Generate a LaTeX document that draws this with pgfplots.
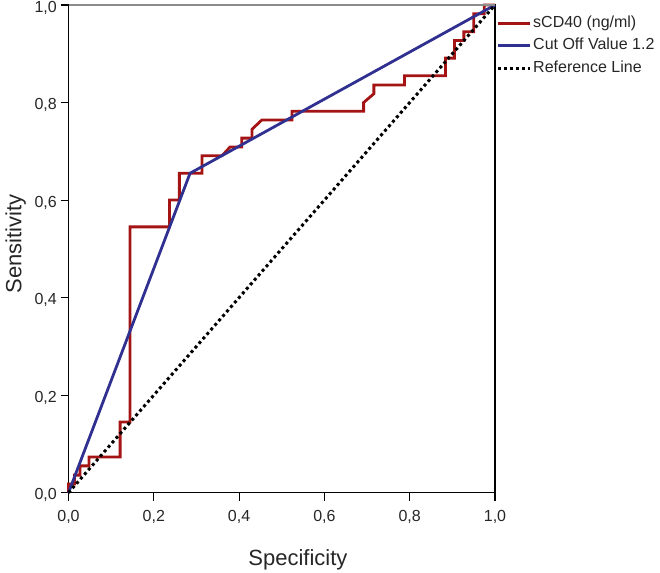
\documentclass[border=0pt]{standalone}
\usepackage{fontspec}
\setmainfont{Liberation Sans}
\usepackage{pgfplots}
\pgfplotsset{compat=1.18}
\definecolor{rocred}{RGB}{165,20,20}
\definecolor{rocblue}{RGB}{48,48,145}
\begin{document}
\begin{tikzpicture}[x=1bp,y=1bp]
\path[use as bounding box] (0,0) rectangle (660,573);
\begin{axis}[
  at={(68.5bp,80.3bp)}, anchor=south west,
  width=426.5bp, height=487.7bp, scale only axis,
  xmin=0, xmax=1, ymin=0, ymax=1,
  clip=false,
  xtick={0,0.2,0.4,0.6,0.8,1}, ytick={0,0.2,0.4,0.6,0.8,1},
  xtick pos=bottom, ytick pos=left,
  tick align=outside, major tick length=8bp,
  tick style={black, line width=1.1bp},
  axis line style={black, line width=1.1bp},
  /pgf/number format/assume math mode=true,
  /pgf/number format/use comma,
  /pgf/number format/fixed,
  /pgf/number format/fixed zerofill,
  /pgf/number format/precision=1,
  tick label style={font=\fontsize{16bp}{19bp}\selectfont, text=black!85},
  xticklabel style={anchor=north, inner sep=0pt, yshift=-9bp},
  yticklabel style={anchor=east, inner sep=0pt, xshift=-3.5bp, yshift=-2.5bp},
  xlabel={Specificity},
  ylabel={Sensitivity},
  label style={font=\fontsize{22bp}{26bp}\selectfont, text=black!85},
  xlabel style={at={([yshift=-73.3bp]axis description cs:0.538,0)}, anchor=base},
  ylabel style={at={([xshift=-47bp]axis description cs:0,0.51)}, anchor=base},
  legend style={at={([xshift=1.5bp,yshift=-9bp]axis description cs:1,1)}, anchor=north west,
    draw=none, fill=none, inner xsep=0pt, inner ysep=0pt,
    font=\fontsize{16bp}{19bp}\selectfont, text=black!85,
    nodes={inner sep=1.5bp, text height=11.5bp, text depth=3.5bp},
    row sep=4.5bp},
  legend cell align=left,
  legend image code/.code={\draw[#1] (0bp,0bp) -- (32bp,0bp);},
]
\addplot[rocred, line width=2.8bp, line join=miter] coordinates {
(0,0) (0,0.018) (0.014,0.018) (0.014,0.036) (0.027,0.036) (0.027,0.055)
(0.048,0.055) (0.048,0.073) (0.121,0.073) (0.121,0.145) (0.144,0.145)
(0.144,0.545) (0.237,0.545) (0.237,0.600) (0.260,0.600) (0.260,0.655)
(0.313,0.655) (0.313,0.691) (0.360,0.691) (0.379,0.709) (0.406,0.709)
(0.406,0.727) (0.430,0.727) (0.430,0.745) (0.453,0.764) (0.524,0.764)
(0.524,0.782) (0.692,0.782) (0.692,0.800) (0.716,0.818) (0.716,0.836)
(0.788,0.836) (0.788,0.855) (0.884,0.855) (0.884,0.891) (0.905,0.891)
(0.905,0.927) (0.927,0.927) (0.927,0.945) (0.950,0.945) (0.950,0.982)
(0.975,0.982) (0.975,1.0) (1,1)
};
\addlegendentry{sCD40 (ng/ml)}
\addplot[rocblue, line width=2.8bp] coordinates {(0,0) (0.285,0.655) (1,1)};
\addlegendentry{Cut Off Value 1.2}
\addplot[black, line width=3bp, dash pattern=on 3bp off 3bp] coordinates {(0,0) (1,1)};
\addlegendentry{Reference Line}
\draw[black!45, line width=1.1bp] (rel axis cs:0,1) -- (rel axis cs:1,1);
\end{axis}
\end{tikzpicture}
\end{document}
